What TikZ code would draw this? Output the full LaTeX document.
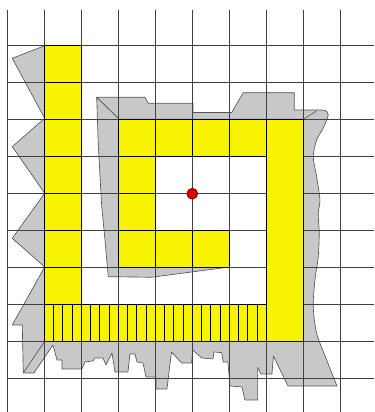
\documentclass[tikz,border=0pt]{standalone}
\usepackage{xcolor}
\usepackage{tikz}
\usetikzlibrary{arrows.meta,positioning,calc}

\definecolor{plotyellow}{RGB}{248,243,0}
\definecolor{plotgray}{RGB}{200,200,200}
\definecolor{plotedge}{RGB}{85,85,85}

\begin{document}
\begin{tikzpicture}[
  gridline/.style={draw=black!75,line width=0.8pt},
  cell/.style={fill=plotyellow,draw=black,line width=0.8pt},
  strip/.style={fill=plotyellow,draw=black,line width=0.7pt},
  shadow/.style={fill=plotgray,draw=plotedge,line width=0.5pt,line join=round},
  hip/.style={draw=plotedge,line width=0.5pt},
  centre/.style={circle,fill=red!85!black,draw=red!40!black,inner sep=0pt,minimum size=0.3cm}]
  \useasboundingbox (-0.197,-0.9) rectangle (9.911,10.235);
  % footprint, traced in pixel units
  \begin{scope}[shift={(-0.1973,10.235)},x=0.027027cm,y=-0.027027cm]
    \draw[shadow] (44.7,45.7) -- (12.3,58.3) -- (44.7,118.3) -- (12.3,146.7)
      -- (44.7,193.3) -- (12.3,238.3) -- (44.7,267) -- (12.3,325) -- (22.3,325)
      -- (23.3,373) -- (34,373) -- (53,345) -- (57,360) -- (62,360) -- (62,369)
      -- (82,369) -- (85,362) -- (93,361) -- (95,358) -- (103,358) -- (106,365)
      -- (112,353) -- (115,372) -- (128,372) -- (130,354) -- (135,354)
      -- (137,362) -- (143,363) -- (146,377) -- (156,377) -- (156,389)
      -- (167,389) -- (171.5,352) -- (181.7,363) -- (191.7,363) -- (192.7,350)
      -- (201.7,358) -- (213,359) -- (214,352) -- (221.7,352.7) -- (223.3,362)
      -- (228,362) -- (230,386) -- (242,387) -- (245,400) -- (257.7,400)
      -- (257.7,367.5) -- (261,374) -- (272,374) -- (273.5,356) -- (288,386)
      -- plot[smooth] coordinates {(337,386) (326.7,360) (316.7,333.3)
        (313.3,306.7) (315,280) (318.3,256.7) (319.3,233.3) (318.3,213.3)
        (320,200) (316.7,176.7) (313.3,156.7) (316.7,140) (323.3,128)
        (328.3,115) (325,110.5) (318,110)}
      -- (294.3,110) -- (294.3,92.7) -- (243.3,92.7) -- (231.7,112.5)
      -- (193,112.5) -- (193,103.3) -- (148.3,103.3) -- (145,97.3)
      -- (96.7,97.3) -- (119.3,119.3) -- (303.7,119.3) -- (303.7,341.3)
      -- (44.7,341.3) -- cycle;
    \draw[shadow] (96.7,97.3) -- (98.3,145) -- (101.7,206) -- (105,240)
      -- (108.3,276.7) -- (151.7,277.3) -- (229.7,267) -- (119.3,267)
      -- (119.3,119.3) -- cycle;
    \draw[hip] (303.7,119.3) -- (316.5,111);
    \draw[hip] (44.7,341.3) -- (23.3,373);
  \end{scope}
  % grid
  \foreach \i in {0,...,9}
    \draw[gridline] (\i,-0.9) -- (\i,9.97);
  \foreach \j in {0,...,9}
    \draw[gridline] (0,\j) -- (9.911,\j);
  % yellow cells
  \foreach \j in {2,...,8}
    \draw[cell] (1,\j) rectangle +(1,1);
  \foreach \i in {3,...,6}
    \draw[cell] (\i,6) rectangle +(1,1);
  \foreach \p in {(3,3),(3,4),(3,5),(4,3),(5,3)}
    \draw[cell] \p rectangle +(1,1);
  \draw[cell] (7,1) rectangle (8,7);
  \foreach \k in {0,...,23}
    \draw[strip] ({1+0.25*\k},1) rectangle +(0.25,1);
  \node[centre] (mid) at (5,5) {};
\end{tikzpicture}
\end{document}
